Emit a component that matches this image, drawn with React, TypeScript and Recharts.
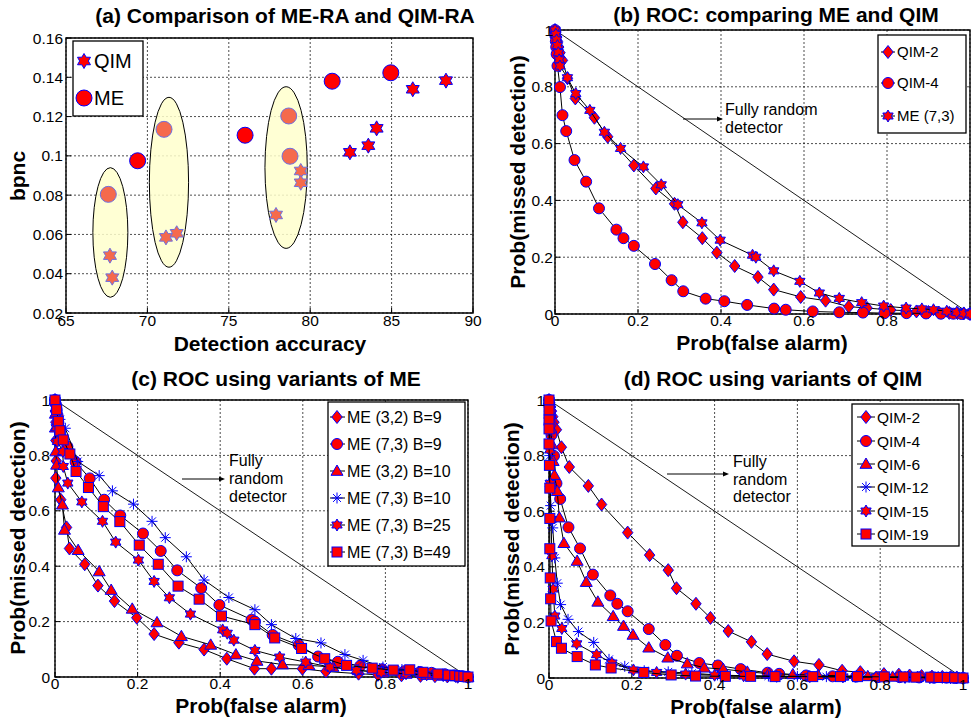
import React from 'react';
import {
  ScatterChart,
  Scatter,
  XAxis,
  YAxis,
  CartesianGrid,
  ReferenceArea,
  ReferenceLine,
} from 'recharts';

const FONT = '"Liberation Sans", Arial, Helvetica, sans-serif';
const RED = '#ff0000';
const BLUE = '#0000ff';
const CORAL = '#f56a4c';
const LILAC = '#6f6fe0';

// ---- (a) bpnc vs detection accuracy ----
const meOut = [[69.4, 0.0975], [76.0, 0.1105], [81.35, 0.138], [84.95, 0.1423]];
const meIn = [[67.6, 0.0804], [71.02, 0.1135], [78.68, 0.1203], [78.76, 0.0998]];
const qimOut = [[82.44, 0.1018], [83.57, 0.1052], [84.08, 0.114], [86.3, 0.1339], [88.34, 0.1383]];
const qimIn = [[67.7, 0.0492], [67.84, 0.038], [71.14, 0.0585], [71.8, 0.0606], [77.9, 0.0699], [79.42, 0.0923], [79.42, 0.0863]];
const groups = [
  { x1: 66.65, x2: 68.8, y1: 0.028, y2: 0.094 },
  { x1: 70.12, x2: 72.53, y1: 0.0433, y2: 0.1298 },
  { x1: 77.22, x2: 79.82, y1: 0.0529, y2: 0.1352 },
];
const accTicks = [65, 70, 75, 80, 85, 90];
const bpncTicks = [0.02, 0.04, 0.06, 0.08, 0.1, 0.12, 0.14, 0.16];

// ---- ROC curves: [P(false alarm), P(missed detection)] ----
const qim2 = [[0, 1], [0.002, 0.99], [0.004, 0.975], [0.006, 0.96], [0.009, 0.94], [0.012, 0.92], [0.018, 0.893], [0.03, 0.83], [0.049, 0.759], [0.095, 0.691], [0.127, 0.624], [0.19, 0.523], [0.243, 0.442], [0.288, 0.388], [0.308, 0.323], [0.355, 0.267], [0.39, 0.216], [0.433, 0.169], [0.489, 0.13], [0.527, 0.086], [0.592, 0.06], [0.652, 0.047], [0.708, 0.026], [0.752, 0.021], [0.809, 0.014], [0.845, 0.012], [0.871, 0.009], [0.9, 0.007], [0.925, 0.005], [0.95, 0.004], [0.97, 0.003], [0.985, 0.002], [1, 0]];
const qim4 = [[0, 1], [0.001, 0.98], [0.002, 0.96], [0.003, 0.94], [0.004, 0.915], [0.006, 0.874], [0.012, 0.799], [0.018, 0.7], [0.027, 0.644], [0.047, 0.542], [0.075, 0.466], [0.106, 0.372], [0.148, 0.297], [0.165, 0.267], [0.19, 0.24], [0.241, 0.176], [0.281, 0.119], [0.309, 0.08], [0.363, 0.054], [0.408, 0.045], [0.463, 0.032], [0.528, 0.019], [0.556, 0.015], [0.621, 0.009], [0.685, 0.006], [0.742, 0.005], [0.794, 0.003], [0.847, 0.003], [0.894, 0.002], [0.93, 0.001], [0.96, 0.001], [0.98, 0], [1, 0]];
const me73 = [[0, 1], [0.002, 0.985], [0.004, 0.965], [0.006, 0.945], [0.008, 0.92], [0.01, 0.895], [0.012, 0.873], [0.03, 0.832], [0.05, 0.776], [0.084, 0.717], [0.119, 0.64], [0.158, 0.583], [0.213, 0.518], [0.256, 0.455], [0.296, 0.385], [0.354, 0.321], [0.398, 0.26], [0.476, 0.207], [0.484, 0.2], [0.527, 0.152], [0.59, 0.115], [0.637, 0.074], [0.685, 0.055], [0.739, 0.04], [0.792, 0.028], [0.846, 0.021], [0.884, 0.018], [0.912, 0.015], [0.944, 0.01], [0.968, 0.006], [0.985, 0.003], [1, 0]];

const me32b9 = [[0, 1], [0.001, 0.96], [0.002, 0.92], [0.002, 0.854], [0.003, 0.78], [0.002, 0.718], [0.014, 0.64], [0.028, 0.54], [0.035, 0.464], [0.072, 0.407], [0.104, 0.33], [0.144, 0.274], [0.198, 0.214], [0.24, 0.155], [0.3, 0.124], [0.361, 0.099], [0.416, 0.066], [0.483, 0.03], [0.524, 0.03], [0.599, 0.03], [0.656, 0.02], [0.735, 0.012], [0.782, 0.008], [0.839, 0.006], [0.885, 0.004], [0.92, 0.003], [0.95, 0.002], [0.975, 0.001], [1, 0]];
const me32b10 = [[0, 1], [0.001, 0.95], [0.001, 0.9], [0.002, 0.814], [0.004, 0.766], [0.008, 0.684], [0.018, 0.622], [0.023, 0.531], [0.056, 0.458], [0.107, 0.381], [0.136, 0.314], [0.187, 0.246], [0.247, 0.197], [0.306, 0.147], [0.377, 0.116], [0.438, 0.081], [0.489, 0.058], [0.551, 0.045], [0.615, 0.042], [0.673, 0.036], [0.734, 0.024], [0.794, 0.016], [0.85, 0.011], [0.9, 0.007], [0.94, 0.004], [0.97, 0.002], [1, 0]];
const me73b10 = [[0, 1], [0.005, 0.96], [0.012, 0.93], [0.025, 0.898], [0.055, 0.778], [0.107, 0.727], [0.139, 0.672], [0.19, 0.624], [0.235, 0.562], [0.267, 0.503], [0.318, 0.434], [0.361, 0.35], [0.421, 0.287], [0.484, 0.243], [0.524, 0.189], [0.583, 0.139], [0.644, 0.123], [0.702, 0.081], [0.746, 0.06], [0.794, 0.036], [0.84, 0.027], [0.88, 0.02], [0.92, 0.012], [0.95, 0.007], [0.975, 0.003], [1, 0]];
const me73b25 = [[0, 1], [0.001, 0.95], [0.003, 0.9], [0.006, 0.85], [0.019, 0.814], [0.02, 0.76], [0.031, 0.7], [0.065, 0.632], [0.115, 0.562], [0.147, 0.487], [0.202, 0.422], [0.24, 0.345], [0.277, 0.286], [0.328, 0.227], [0.406, 0.17], [0.417, 0.158], [0.433, 0.133], [0.484, 0.096], [0.544, 0.072], [0.607, 0.054], [0.665, 0.036], [0.73, 0.024], [0.79, 0.017], [0.85, 0.012], [0.9, 0.008], [0.94, 0.005], [0.97, 0.002], [1, 0]];
const me73b49 = [[0, 1], [0.004, 0.965], [0.008, 0.923], [0.012, 0.889], [0.02, 0.856], [0.036, 0.805], [0.051, 0.742], [0.081, 0.684], [0.117, 0.615], [0.157, 0.561], [0.204, 0.476], [0.25, 0.407], [0.298, 0.328], [0.349, 0.281], [0.403, 0.22], [0.484, 0.189], [0.532, 0.141], [0.597, 0.103], [0.653, 0.066], [0.706, 0.042], [0.768, 0.032], [0.819, 0.025], [0.859, 0.026], [0.891, 0.017], [0.927, 0.011], [0.952, 0.007], [0.968, 0.005], [0.98, 0.003], [0.99, 0.002], [1, 0]];

const qim6 = [[0, 1], [0.002, 0.95], [0.004, 0.9], [0.007, 0.84], [0.01, 0.78], [0.013, 0.73], [0.02, 0.672], [0.025, 0.577], [0.036, 0.485], [0.068, 0.421], [0.09, 0.345], [0.118, 0.274], [0.155, 0.222], [0.18, 0.187], [0.203, 0.155], [0.241, 0.109], [0.287, 0.073], [0.334, 0.052], [0.375, 0.037], [0.421, 0.032], [0.479, 0.022], [0.531, 0.016], [0.589, 0.013], [0.65, 0.01], [0.71, 0.008], [0.77, 0.006], [0.83, 0.004], [0.89, 0.003], [0.94, 0.002], [0.975, 0.001], [1, 0]];
const qim12 = [[0, 1], [0.001, 0.95], [0.002, 0.88], [0.002, 0.8], [0.003, 0.7], [0.004, 0.62], [0.009, 0.54], [0.014, 0.432], [0.02, 0.341], [0.028, 0.264], [0.046, 0.211], [0.071, 0.167], [0.108, 0.128], [0.145, 0.067], [0.183, 0.042], [0.23, 0.026], [0.288, 0.022], [0.345, 0.017], [0.407, 0.011], [0.47, 0.008], [0.53, 0.007], [0.6, 0.006], [0.67, 0.005], [0.74, 0.004], [0.81, 0.003], [0.87, 0.002], [0.93, 0.001], [0.97, 0.001], [1, 0]];
const qim15 = [[0, 1], [0.001, 0.93], [0.002, 0.82], [0.003, 0.7], [0.005, 0.57], [0.007, 0.44], [0.01, 0.32], [0.014, 0.223], [0.031, 0.178], [0.067, 0.123], [0.115, 0.084], [0.152, 0.054], [0.204, 0.029], [0.26, 0.02], [0.33, 0.014], [0.4, 0.01], [0.47, 0.008], [0.55, 0.006], [0.63, 0.005], [0.71, 0.004], [0.79, 0.003], [0.86, 0.002], [0.92, 0.001], [0.97, 0.001], [1, 0]];
const qim19 = [[0, 1], [0, 0.964], [0, 0.928], [0, 0.896], [0, 0.842], [0.001, 0.765], [0.002, 0.683], [0.002, 0.574], [0.002, 0.465], [0.003, 0.36], [0.004, 0.285], [0.005, 0.205], [0.018, 0.131], [0.03, 0.107], [0.068, 0.077], [0.112, 0.047], [0.15, 0.036], [0.229, 0.02], [0.295, 0.011], [0.354, 0.007], [0.426, 0.006], [0.487, 0.006], [0.546, 0.005], [0.637, 0.005], [0.704, 0.005], [0.745, 0.005], [0.81, 0.004], [0.857, 0.004], [0.886, 0.003], [0.922, 0.003], [0.942, 0.002], [0.962, 0.002], [0.98, 0.001], [1, 0]];

const rocTicks = [0, 0.2, 0.4, 0.6, 0.8, 1];
// panel (b) has its right edge on the window border, so its "1" is not shown
const rocTicksB = [0, 0.2, 0.4, 0.6, 0.8];

const titles = [
  '(a) Comparison of ME-RA and QIM-RA',
  '(b) ROC: comparing ME and QIM',
  '(c) ROC using variants of ME',
  '(d) ROC using variants of QIM',
];
const legendA = ['QIM', 'ME'];
const legendB = ['QIM-2', 'QIM-4', 'ME (7,3)'];
const legendC = ['ME (3,2) B=9', 'ME (7,3) B=9', 'ME (3,2) B=10', 'ME (7,3) B=10', 'ME (7,3) B=25', 'ME (7,3) B=49'];
const legendD = ['QIM-2', 'QIM-4', 'QIM-6', 'QIM-12', 'QIM-15', 'QIM-19'];

const pts = (a: number[][]) => a.map(([x, y]) => ({ x, y }));

type Kind = 'diamond' | 'circle' | 'triangle' | 'asterisk' | 'hexagram' | 'square';

const Marker = ({ cx, cy, kind, r = 6, fill = RED, stroke = BLUE }: any) => {
  if (cx == null || cy == null) return null;
  const sw = 1;
  switch (kind as Kind) {
    case 'circle':
      return <circle cx={cx} cy={cy} r={r} fill={fill} stroke={stroke} strokeWidth={sw} />;
    case 'square':
      return <rect x={cx - r} y={cy - r} width={2 * r} height={2 * r} fill={fill} stroke={stroke} strokeWidth={sw} />;
    case 'diamond':
      return (
        <polygon
          points={`${cx},${cy - r} ${cx + r * 0.8},${cy} ${cx},${cy + r} ${cx - r * 0.8},${cy}`}
          fill={fill} stroke={stroke} strokeWidth={sw}
        />
      );
    case 'triangle':
      return (
        <polygon
          points={`${cx},${cy - r} ${cx + r},${cy + r * 0.72} ${cx - r},${cy + r * 0.72}`}
          fill={fill} stroke={stroke} strokeWidth={sw}
        />
      );
    case 'hexagram': {
      const p: string[] = [];
      for (let i = 0; i < 12; i++) {
        const rad = i % 2 === 0 ? r : r * 0.58;
        const a = (Math.PI / 180) * (-90 + i * 30);
        p.push(`${cx + rad * Math.cos(a)},${cy + rad * Math.sin(a)}`);
      }
      return <polygon points={p.join(' ')} fill={fill} stroke={stroke} strokeWidth={sw} />;
    }
    case 'asterisk': {
      const d = r * 0.72;
      return (
        <g stroke={BLUE} strokeWidth={1}>
          <line x1={cx - r} y1={cy} x2={cx + r} y2={cy} />
          <line x1={cx} y1={cy - r} x2={cx} y2={cy + r} />
          <line x1={cx - d} y1={cy - d} x2={cx + d} y2={cy + d} />
          <line x1={cx - d} y1={cy + d} x2={cx + d} y2={cy - d} />
        </g>
      );
    }
  }
  return null;
};

const mk = (kind: Kind, r: number, fill = RED, stroke = BLUE) => (p: any) => (
  <Marker cx={p.cx} cy={p.cy} kind={kind} r={r} fill={fill} stroke={stroke} />
);

const tickStyle = { fill: '#000', fontSize: 15.5, fontFamily: FONT };
const joined = { stroke: '#000', strokeWidth: 1 };

const Panel = ({ box, margin, xDomain, yDomain, xTicks, yTicks, xm, ym, children }: any) => (
  <div style={{ position: 'absolute', left: box[0], top: box[1] }}>
    <ScatterChart width={box[2]} height={box[3]} margin={margin}>
      <CartesianGrid stroke="#000" strokeDasharray="2 2" strokeWidth={0.7} />
      <XAxis
        type="number" dataKey="x" domain={xDomain} ticks={xTicks} interval={0} height={30}
        axisLine={false} tickSize={-5} tickMargin={xm} tickLine={{ stroke: '#000' }}
        tick={tickStyle} tickFormatter={(v: number) => String(v)}
      />
      <YAxis
        type="number" dataKey="y" domain={yDomain} ticks={yTicks} interval={0} width={40}
        axisLine={false} tickSize={-5} tickMargin={ym} tickLine={{ stroke: '#000' }}
        tick={tickStyle} tickFormatter={(v: number) => String(v)}
      />
      {children}
      <ReferenceArea
        x1={xDomain[0]} x2={xDomain[1]} y1={yDomain[0]} y2={yDomain[1]}
        fill="none" stroke="#000" strokeWidth={1.4} strokeOpacity={1}
      />
    </ScatterChart>
  </div>
);

const Diagonal = () => (
  <ReferenceLine segment={[{ x: 0, y: 1 }, { x: 1, y: 0 }]} stroke="#000" strokeWidth={0.9} />
);

const LegendBox = ({ x, y, w, h, rows, items, fs, mx, tx, line }: any) => (
  <g>
    <rect x={x} y={y} width={w} height={h} fill="#fff" stroke="#000" strokeWidth={1.3} />
    {items.map((it: any, i: number) => (
      <g key={i}>
        {line && <line x1={line[0]} x2={line[1]} y1={rows[i]} y2={rows[i]} stroke="#000" strokeWidth={1} />}
        <Marker cx={mx} cy={rows[i]} kind={it.kind} r={it.r} fill={it.fill ?? RED} stroke={it.stroke ?? BLUE} />
        <text x={tx} y={rows[i] + fs * 0.36} fontSize={fs} fontFamily={FONT} fill="#000">{it.label}</text>
      </g>
    ))}
  </g>
);

const Arrow = ({ x1, x2, y }: any) => (
  <g>
    <line x1={x1} x2={x2 - 4} y1={y} y2={y} stroke="#000" strokeWidth={1} />
    <polygon points={`${x2},${y} ${x2 - 6},${y - 2.5} ${x2 - 6},${y + 2.5}`} fill="#000" />
  </g>
);

const Note = ({ x, ys, lines }: any) => (
  <g>
    {lines.map((t: string, i: number) => (
      <text key={i} x={x} y={ys[i]} fontSize={16} fontFamily={FONT} fill="#000">{t}</text>
    ))}
  </g>
);

const Title = ({ x, y, children }: any) => (
  <text x={x} y={y} textAnchor="middle" fontSize={21} fontWeight="bold" fontFamily={FONT} fill="#000">{children}</text>
);

const VLabel = ({ x, y, children }: any) => (
  <text x={x} y={y} textAnchor="middle" fontSize={21} fontWeight="bold" fontFamily={FONT} fill="#000" transform={`rotate(-90 ${x} ${y})`}>{children}</text>
);

export default function App() {
  const kindsC: Kind[] = ['diamond', 'circle', 'triangle', 'asterisk', 'hexagram', 'square'];
  const sizeOf: Record<Kind, number> = { diamond: 6.5, circle: 5.5, triangle: 6, asterisk: 5.5, hexagram: 6, square: 5 };
  return (
    <div style={{ position: 'absolute', left: 0, top: 0, width: 971, height: 719, background: '#fff' }}>
      {/* (a) */}
      <Panel
        box={[0, 0, 490, 355]} margin={{ top: 38, right: 17, bottom: 12, left: 26 }}
        xDomain={[65, 90]} yDomain={[0.02, 0.16]} xTicks={accTicks} yTicks={bpncTicks} xm={7} ym={8}
      >
        {groups.map((g, i) => (
          <ReferenceArea
            key={i} x1={g.x1} x2={g.x2} y1={g.y1} y2={g.y2}
            shape={(p: any) => (
              <ellipse
                cx={p.x + p.width / 2} cy={p.y + p.height / 2} rx={p.width / 2} ry={p.height / 2}
                fill="#ffffcc" fillOpacity={0.85} stroke="#000" strokeWidth={1}
              />
            )}
          />
        ))}
        <Scatter data={pts(meOut)} isAnimationActive={false} shape={mk('circle', 8)} />
        <Scatter data={pts(meIn)} isAnimationActive={false} shape={mk('circle', 8, CORAL, LILAC)} />
        <Scatter data={pts(qimOut)} isAnimationActive={false} shape={mk('hexagram', 7.5)} />
        <Scatter data={pts(qimIn)} isAnimationActive={false} shape={mk('hexagram', 7.5, CORAL, LILAC)} />
      </Panel>

      {/* (b) */}
      <Panel
        box={[490, 0, 481, 355]} margin={{ top: 30, right: 1, bottom: 11, left: 25 }}
        xDomain={[0, 1]} yDomain={[0, 1]} xTicks={rocTicksB} yTicks={rocTicks} xm={6} ym={7}
      >
        <Diagonal />
        <Scatter data={pts(qim2)} isAnimationActive={false} line={joined} shape={mk('diamond', 6.5)} />
        <Scatter data={pts(qim4)} isAnimationActive={false} line={joined} shape={mk('circle', 5.5)} />
        <Scatter data={pts(me73)} isAnimationActive={false} line={joined} shape={mk('hexagram', 6)} />
      </Panel>

      {/* (c) */}
      <Panel
        box={[0, 355, 490, 364]} margin={{ top: 45, right: 22, bottom: 12, left: 15 }}
        xDomain={[0, 1]} yDomain={[0, 1]} xTicks={rocTicks} yTicks={rocTicks} xm={6} ym={10}
      >
        <Diagonal />
        {[me32b9, me73, me32b10, me73b10, me73b25, me73b49].map((s, i) => (
          <Scatter key={i} data={pts(s)} isAnimationActive={false} line={joined} shape={mk(kindsC[i], sizeOf[kindsC[i]])} />
        ))}
      </Panel>

      {/* (d) */}
      <Panel
        box={[490, 355, 481, 364]} margin={{ top: 45, right: 8, bottom: 11, left: 19 }}
        xDomain={[0, 1]} yDomain={[0, 1]} xTicks={rocTicks} yTicks={rocTicks} xm={6} ym={9}
      >
        <Diagonal />
        {[qim2, qim4, qim6, qim12, qim15, qim19].map((s, i) => (
          <Scatter key={i} data={pts(s)} isAnimationActive={false} line={joined} shape={mk(kindsC[i], sizeOf[kindsC[i]])} />
        ))}
      </Panel>

      <svg width={971} height={719} style={{ position: 'absolute', left: 0, top: 0, pointerEvents: 'none' }}>
        <Title x={285} y={23}>{titles[0]}</Title>
        <Title x={776} y={22}>{titles[1]}</Title>
        <Title x={276} y={386}>{titles[2]}</Title>
        <Title x={773} y={386}>{titles[3]}</Title>

        <Title x={270} y={351}>Detection accuracy</Title>
        <Title x={762} y={350}>Prob(false alarm)</Title>
        <Title x={261} y={713}>Prob(false alarm)</Title>
        <Title x={756} y={714}>Prob(false alarm)</Title>

        <VLabel x={25} y={176}>bpnc</VLabel>
        <VLabel x={525} y={172}>Prob(missed detection)</VLabel>
        <VLabel x={25} y={538}>Prob(missed detection)</VLabel>
        <VLabel x={519} y={539}>Prob(missed detection)</VLabel>

        <LegendBox
          x={73} y={41} w={70} h={75} rows={[61, 98]} fs={20} mx={84} tx={94}
          items={[{ kind: 'hexagram', r: 7.5, label: legendA[0] }, { kind: 'circle', r: 8, label: legendA[1] }]}
        />
        <LegendBox
          x={878} y={35} w={88} h={98} rows={[52, 83, 116]} fs={15} mx={888} tx={897} line={[881, 895]}
          items={[
            { kind: 'diamond', r: 6.5, label: legendB[0] },
            { kind: 'circle', r: 5.5, label: legendB[1] },
            { kind: 'hexagram', r: 6, label: legendB[2] },
          ]}
        />
        <LegendBox
          x={328} y={402} w={137} h={164} rows={[417, 444, 471, 498, 525, 552]} fs={16} mx={337} tx={347} line={[330, 345]}
          items={legendC.map((label, i) => ({ kind: kindsC[i], r: sizeOf[kindsC[i]], label }))}
        />
        <LegendBox
          x={852} y={404} w={107} h={142} rows={[417, 441, 464, 487, 511, 534]} fs={15.5} mx={866} tx={877} line={[857, 875]}
          items={legendD.map((label, i) => ({ kind: kindsC[i], r: sizeOf[kindsC[i]], label }))}
        />

        <Arrow x1={683} x2={723} y={119} />
        <Note x={725} ys={[115, 133]} lines={['Fully random', 'detector']} />
        <Arrow x1={182} x2={225} y={479} />
        <Note x={229} ys={[466, 484, 502]} lines={['Fully', 'random', 'detector']} />
        <Arrow x1={667} x2={729} y={474} />
        <Note x={733} ys={[467, 485, 502]} lines={['Fully', 'random', 'detector']} />
      </svg>
    </div>
  );
}
